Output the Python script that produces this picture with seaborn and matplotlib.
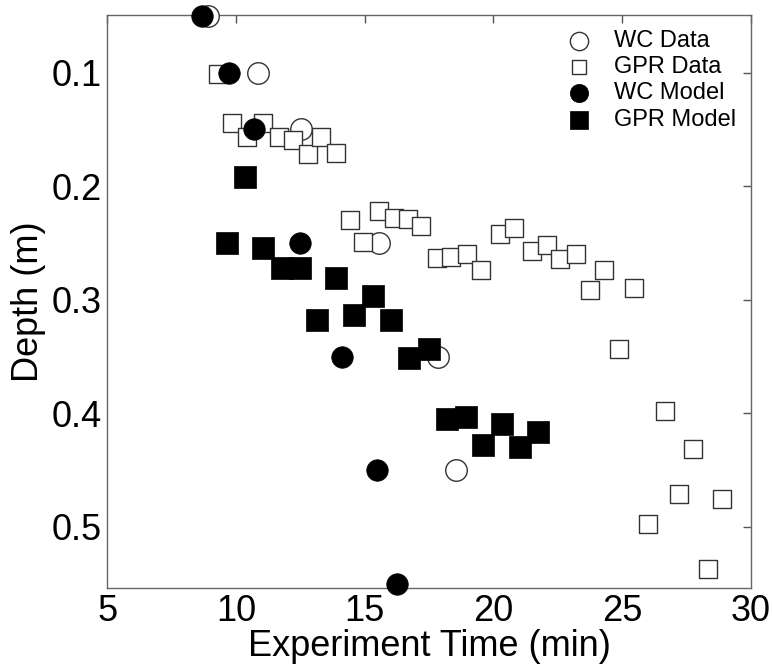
import matplotlib
matplotlib.use("Agg")
import matplotlib.pyplot as plt
import seaborn as sns
import pandas as pd

wc_data_x = [8.89, 10.87, 12.54, 15.54, 17.86, 18.53]
wc_data_y = [0.05, 0.10, 0.15, 0.25, 0.35, 0.45]

gpr_data_x = [9.28, 9.86, 10.44, 11.03, 11.65, 12.23, 12.78, 13.32, 13.87, 14.41,
              14.95, 15.54, 16.12, 16.67, 17.20, 17.80, 18.37, 18.96, 19.54, 20.24,
              20.79, 21.49, 22.07, 22.61, 23.20, 23.74, 24.32, 24.87, 25.45, 26.00,
              26.66, 27.20, 27.75, 28.33, 28.87]
gpr_data_y = [0.101, 0.144, 0.157, 0.144, 0.157, 0.159, 0.172, 0.157, 0.171, 0.230,
              0.249, 0.222, 0.228, 0.229, 0.235, 0.263, 0.262, 0.260, 0.274, 0.242,
              0.237, 0.257, 0.252, 0.264, 0.260, 0.291, 0.274, 0.343, 0.290, 0.497,
              0.398, 0.471, 0.431, 0.537, 0.475]

wc_model_x = [8.66, 9.74, 10.70, 12.47, 14.10, 15.46, 16.27]
wc_model_y = [0.05, 0.10, 0.15, 0.25, 0.35, 0.45, 0.55]

gpr_model_x = [9.63, 10.33, 11.03, 11.77, 12.47, 13.16, 13.90, 14.60, 15.34, 16.04,
               16.74, 17.48, 18.18, 18.92, 19.58, 20.32, 21.02, 21.72]
gpr_model_y = [0.250, 0.192, 0.254, 0.272, 0.272, 0.318, 0.281, 0.313, 0.297, 0.318,
               0.351, 0.343, 0.405, 0.403, 0.428, 0.409, 0.430, 0.416]

x_ticks = [5, 10, 15, 20, 25, 30]
y_ticks = [0.1, 0.2, 0.3, 0.4, 0.5]

sns.set_style("white")
plt.rcParams["font.family"] = ["Liberation Sans", "DejaVu Sans"]
plt.rcParams["text.color"] = "black"
plt.rcParams["axes.labelcolor"] = "black"
plt.rcParams["xtick.color"] = "black"
plt.rcParams["ytick.color"] = "black"

fig = plt.figure(figsize=(7.73, 6.67), dpi=100)
ax = fig.add_axes([0.139, 0.118, 0.832, 0.86])

edge = "#333333"
series = [
    ("WC Data", wc_data_x, wc_data_y, "o", "white", edge, 240, 1.0),
    ("GPR Data", gpr_data_x, gpr_data_y, "s", "white", edge, 150, 1.0),
    ("WC Model", wc_model_x, wc_model_y, "o", "black", "black", 240, 0.5),
    ("GPR Model", gpr_model_x, gpr_model_y, "s", "black", "black", 250, 0.5),
]
for label, xs, ys, m, fc, ec, s, lw in series:
    df = pd.DataFrame({"x": xs, "y": ys})
    sns.scatterplot(data=df, x="x", y="y", ax=ax, marker=m, s=s,
                    facecolor=fc, edgecolor=ec, linewidth=lw, label=label,
                    clip_on=False, zorder=3)

ax.set_xlim(5, 30)
ax.set_ylim(0.554, 0.049)
ax.set_xticks(x_ticks)
ax.set_xticklabels([str(t) for t in x_ticks])
ax.set_yticks(y_ticks)
ax.set_yticklabels([f"{t:.1f}" for t in y_ticks])
ax.tick_params(direction="in", length=6, width=1, color="#555555",
               labelsize=26, labelcolor="black", top=True, right=True, pad=4)
for sp in ax.spines.values():
    sp.set_color("#666666")
    sp.set_linewidth(1.0)
ax.set_xlabel("Experiment Time (min)", fontsize=26, labelpad=0, color="black")
ax.set_ylabel("Depth (m)", fontsize=26, labelpad=4, color="black")

leg = ax.legend(loc="upper right", frameon=False, fontsize=17,
                bbox_to_anchor=(1.0, 0.998), handletextpad=0.5,
                labelspacing=0.18, borderaxespad=0.2, markerscale=0.85)
for t in leg.get_texts():
    t.set_color("black")

fig.savefig("out.png", dpi=100)
